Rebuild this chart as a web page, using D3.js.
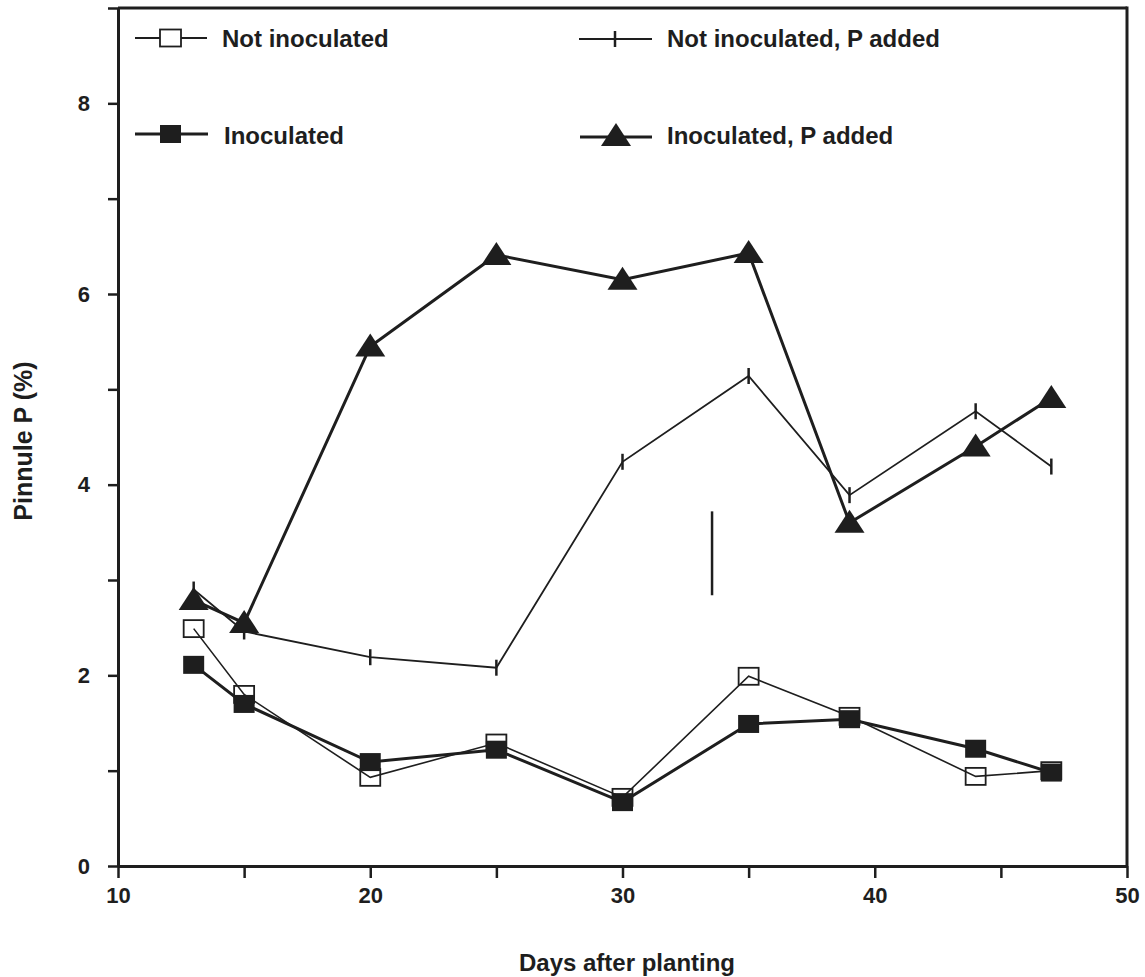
<!DOCTYPE html>
<html>
<head>
    <script type="text/javascript" src="https://d3js.org/d3.v7.min.js"></script>
    <style>
        body { margin: 0; background: #fff; }
        text { font-family: "Liberation Sans", Arial, sans-serif; font-weight: bold; fill: #1e1e1e; }
    </style>
</head>
<body>
    <script>

        // data
        var days = [13, 15, 20, 25, 30, 35, 39, 44, 47]
        var notInoculated = [2.49, 1.80, 0.93, 1.29, 0.72, 1.99, 1.57, 0.94, 1.00]
        var inoculated = [2.11, 1.70, 1.09, 1.22, 0.67, 1.49, 1.54, 1.23, 0.98]
        var notInoculatedP = [2.90, 2.46, 2.19, 2.08, 4.24, 5.14, 3.89, 4.77, 4.19]
        var inoculatedP = [2.79, 2.55, 5.45, 6.41, 6.15, 6.43, 3.60, 4.40, 4.91]
        // the lone bar in the middle of the plot (LSD)
        var lsdDay = 33.55
        var lsdRange = [2.84, 3.72]

        var xTicks = [10, 15, 20, 25, 30, 35, 40, 45, 50]
        var yTicks = [0, 1, 2, 3, 4, 5, 6, 7, 8, 9]

        var w = 1145, h = 977
        var ink = "#1e1e1e"
        var svg = d3.select('body').append('svg')
        svg.attr('width', w).attr('height', h)

        var xscale = d3.scaleLinear()
            .domain([10, 50])
            .range([118, 1127])

        var yscale = d3.scaleLinear()
            .domain([0, 9])
            .range([866, 8])

        // frame top + right
        svg.append("line")
            .attr("x1", xscale(10)).attr("x2", xscale(50))
            .attr("y1", yscale(9)).attr("y2", yscale(9))
            .attr("stroke", ink).attr("stroke-width", 3)
        svg.append("line")
            .attr("x1", xscale(50)).attr("x2", xscale(50))
            .attr("y1", yscale(9) - 1.5).attr("y2", yscale(0))
            .attr("stroke", ink).attr("stroke-width", 3)

        var xAxis = svg.append("g")
            .attr("transform", "translate(0," + yscale(0) + ")")
            .call(d3.axisBottom(xscale).tickValues(xTicks).tickSize(12).tickSizeOuter(0).tickPadding(9)
                .tickFormat(d => d % 10 === 0 ? d : ""))

        var yAxis = svg.append("g")
            .attr("transform", "translate(" + xscale(10) + ",0)")
            .call(d3.axisLeft(yscale).tickValues(yTicks).tickSize(10).tickSizeOuter(0).tickPadding(18)
                .tickFormat(d => d % 2 === 0 && d < 9 ? d : ""))

        svg.selectAll(".domain").attr("stroke", ink).attr("stroke-width", 3)
        svg.selectAll(".tick line").attr("stroke", ink).attr("stroke-width", 2.5)
        svg.selectAll(".tick text").attr("font-size", 22).style("font-family", "Liberation Sans, Arial, sans-serif")
            .style("font-weight", "bold").attr("fill", ink)

        //Axes labels
        svg.append("text")
            .attr("transform", "rotate(-90)")
            .attr("y", 32)
            .attr("x", -441)
            .style("text-anchor", "middle")
            .attr("font-size", "25px")
            .text("Pinnule P (%)")

        svg.append("text")
            .attr("y", 971)
            .attr("x", 627)
            .style("text-anchor", "middle")
            .attr("font-size", "24px")
            .text("Days after planting")

        var tri = "M0,-13L15,10L-15,10Z"

        function series(vals) {
            return days.map((d, i) => ({ day: d, v: vals[i] }))
        }

        var line = d3.line().x(d => xscale(d.day)).y(d => yscale(d.v))

        // Not inoculated, P added (thin line, vertical tick marks)
        svg.append("path").datum(series(notInoculatedP))
            .attr("d", line).attr("fill", "none").attr("stroke", ink).attr("stroke-width", 1.8)
        svg.selectAll(".plus").data(series(notInoculatedP)).enter().append("line")
            .attr("x1", d => xscale(d.day)).attr("x2", d => xscale(d.day))
            .attr("y1", d => yscale(d.v) - 8).attr("y2", d => yscale(d.v) + 8)
            .attr("stroke", ink).attr("stroke-width", 2.5)

        // Not inoculated (thin, open squares)
        svg.append("path").datum(series(notInoculated))
            .attr("d", line).attr("fill", "none").attr("stroke", ink).attr("stroke-width", 1.6)
        svg.selectAll(".open").data(series(notInoculated)).enter().append("rect")
            .attr("x", d => xscale(d.day) - 10).attr("y", d => yscale(d.v) - 8.5)
            .attr("width", 20).attr("height", 17)
            .attr("fill", "none").attr("stroke", ink).attr("stroke-width", 1.8)

        // Inoculated (thick, filled squares)
        svg.append("path").datum(series(inoculated))
            .attr("d", line).attr("fill", "none").attr("stroke", ink).attr("stroke-width", 3)
        svg.selectAll(".filled").data(series(inoculated)).enter().append("rect")
            .attr("x", d => xscale(d.day) - 10.5).attr("y", d => yscale(d.v) - 9)
            .attr("width", 21).attr("height", 18)
            .attr("fill", ink)

        // Inoculated, P added (thick, triangles)
        svg.append("path").datum(series(inoculatedP))
            .attr("d", line).attr("fill", "none").attr("stroke", ink).attr("stroke-width", 3)
        svg.selectAll(".tri").data(series(inoculatedP)).enter().append("path")
            .attr("d", tri)
            .attr("transform", d => "translate(" + xscale(d.day) + "," + yscale(d.v) + ")")
            .attr("fill", ink)

        // LSD bar
        svg.append("line")
            .attr("x1", xscale(lsdDay)).attr("x2", xscale(lsdDay))
            .attr("y1", yscale(lsdRange[0])).attr("y2", yscale(lsdRange[1]))
            .attr("stroke", ink).attr("stroke-width", 2.5)

        //Legend
        function legendLine(x1, x2, y, sw) {
            svg.append("line").attr("x1", x1).attr("x2", x2).attr("y1", y).attr("y2", y)
                .attr("stroke", ink).attr("stroke-width", sw)
        }

        legendLine(135, 207, 38, 1.8)
        svg.append("rect").attr("x", 160).attr("y", 29.5).attr("width", 21).attr("height", 17)
            .attr("fill", "#fff").attr("stroke", ink).attr("stroke-width", 1.8)
        svg.append("text").attr("x", 222).attr("y", 47).attr("font-size", "24px").text("Not inoculated")

        legendLine(135, 208, 134, 3)
        svg.append("rect").attr("x", 160).attr("y", 125).attr("width", 21).attr("height", 18)
            .attr("fill", ink)
        svg.append("text").attr("x", 224).attr("y", 144).attr("font-size", "24px").text("Inoculated")

        legendLine(579, 652, 39, 1.8)
        svg.append("line").attr("x1", 615).attr("x2", 615).attr("y1", 31).attr("y2", 47)
            .attr("stroke", ink).attr("stroke-width", 2.5)
        svg.append("text").attr("x", 667).attr("y", 47).attr("font-size", "24px").text("Not inoculated, P added")

        legendLine(580, 652, 137, 3)
        svg.append("path").attr("d", tri).attr("transform", "translate(616,136)").attr("fill", ink)
        svg.append("text").attr("x", 667).attr("y", 144).attr("font-size", "24px").text("Inoculated, P added")

    </script>
</body>
</html>
